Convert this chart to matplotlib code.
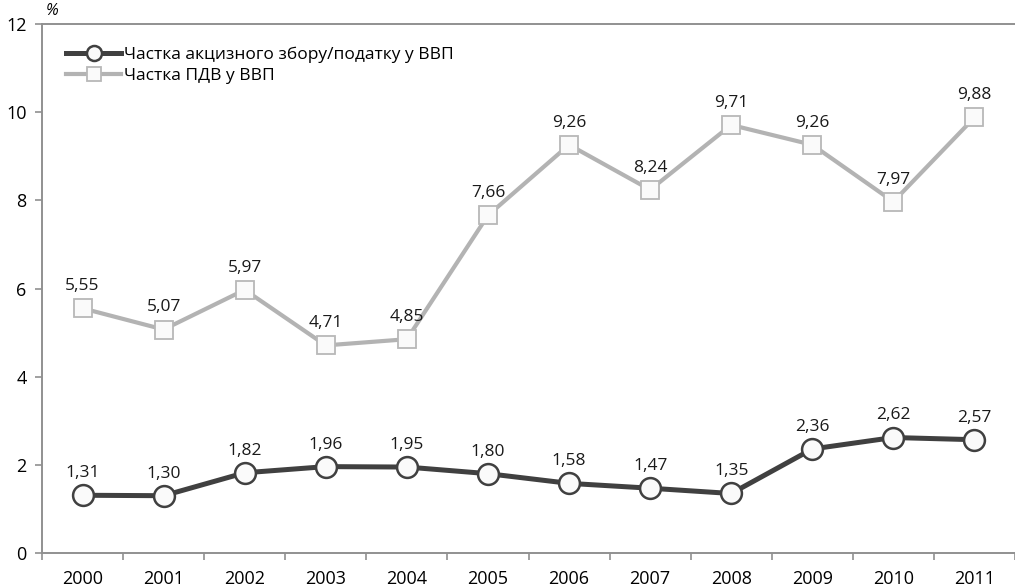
import numpy as np
import matplotlib
matplotlib.use('Agg')
from matplotlib import pyplot as plt

years = ['2000', '2001', '2002', '2003', '2004', '2005',
         '2006', '2007', '2008', '2009', '2010', '2011']
excise = [1.31, 1.30, 1.82, 1.96, 1.95, 1.80, 1.58, 1.47, 1.35, 2.36, 2.62, 2.57]
vat = [5.55, 5.07, 5.97, 4.71, 4.85, 7.66, 9.26, 8.24, 9.71, 9.26, 7.97, 9.88]
y_ticks = [0, 2, 4, 6, 8, 10, 12]

plt.rcParams['font.family'] = ['Open Sans', 'DejaVu Sans']
plt.rcParams['font.size'] = 12.5

fig = plt.figure(figsize=(10.15, 5.86), dpi=100)
ax = fig.add_axes([0.0414, 0.0563, 0.9586, 0.9027])

x = np.arange(len(years))
ax.plot(x, vat, color='#b3b3b3', lw=3.0, marker='s', ms=13.5,
        mfc='#fafafa', mec='#b8b8b8', mew=1.3, label='Частка ПДВ у ВВП', zorder=3)
ax.plot(x, excise, color='#404040', lw=3.6, marker='o', ms=15,
        mfc='#fafafa', mec='#404040', mew=1.8,
        label='Частка акцизного збору/податку у ВВП', zorder=4)

def fmt(v):
    return ('%.2f' % v).replace('.', ',')

# value labels above each point
for xi, v in zip(x, excise):
    ax.annotate(fmt(v), (xi, v), xytext=(0, 13), textcoords='offset points',
                ha='center', va='baseline', color='#1a1a1a', fontsize=12.5)
for xi, v in zip(x, vat):
    ax.annotate(fmt(v), (xi, v), xytext=(0, 13), textcoords='offset points',
                ha='center', va='baseline', color='#1a1a1a', fontsize=12.5)

ax.set_xlim(-0.5, len(years) - 0.5)
ax.set_ylim(0, 12)
ax.set_yticks(y_ticks)
ax.set_yticklabels([str(t) for t in y_ticks], fontsize=13)
ax.set_xticks(x)
ax.set_xticklabels(years, fontsize=13)
ax.set_xticks(np.arange(-0.5, len(years), 1), minor=True)
ax.tick_params(axis='x', which='major', length=0, pad=12)
ax.tick_params(axis='x', which='minor', length=5, color='#909090', width=1.2)
ax.tick_params(axis='y', length=5, color='#909090', width=1.2, pad=6)

for s in ['left', 'bottom', 'top']:
    ax.spines[s].set_color('#909090')
    ax.spines[s].set_linewidth(1.4)
ax.spines['right'].set_visible(False)

handles, labels = ax.get_legend_handles_labels()
ax.legend(handles[::-1], labels[::-1], loc='upper left', bbox_to_anchor=(0.012, 0.98),
          frameon=False, handlelength=3.2, handletextpad=0.15, labelspacing=0.3,
          fontsize=12.5, markerscale=0.72, borderpad=0.2)

fig.text(0.045, 0.982, '%', style='italic', fontsize=11.5, ha='left', va='center')

fig.savefig('out.png', dpi=100)
